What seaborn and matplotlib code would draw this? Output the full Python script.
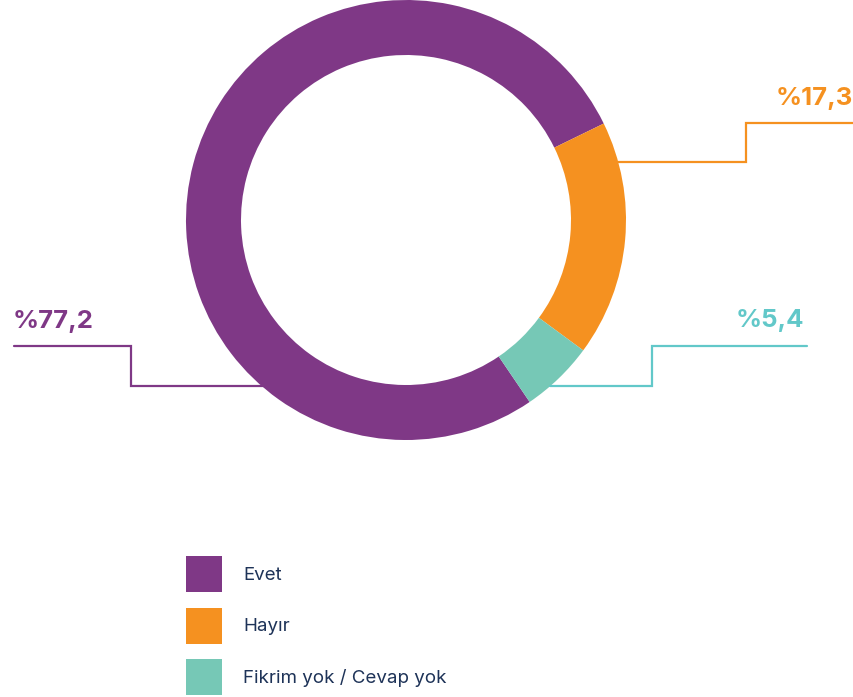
import matplotlib
matplotlib.use('Agg')
import matplotlib.pyplot as plt
import seaborn as sns

# data
categories = ['Evet', 'Hayır', 'Fikrim yok / Cevap yok']
shares = [77.2, 17.3, 5.4]
value_labels = ['%77,2', '%17,3', '%5,4']

sns.set_theme(style='white')
plt.rcParams['font.family'] = ['Inter', 'DejaVu Sans']

colors = sns.color_palette(['#7f3886', '#f59120', '#76c8b6'])
label_colors = ['#7f3886', '#f59120', '#62c8c9']
text_navy = '#1e3358'

W, H = 854, 697
fig = plt.figure(figsize=(W / 100, H / 100), dpi=100)
ax = fig.add_axes([0, 0, 1, 1])


# pixel y (from top) -> data y
def fy(y):
    return H - y


# donut: purple runs clockwise and ends where orange starts (~26 deg)
purple_deg = 360 * shares[0] / sum(shares)
wedges, _ = ax.pie(shares, colors=colors, startangle=26 + purple_deg,
                   counterclock=False, center=(406, fy(220)), radius=220,
                   frame=True, wedgeprops=dict(width=55, linewidth=0))
ax.set_xlim(0, W)
ax.set_ylim(0, H)
ax.set_aspect('equal')
ax.axis('off')

# leader lines (step shape)
lw = 1.6
ax.plot([14, 131, 131, 264], [fy(346), fy(346), fy(386), fy(386)],
        color=label_colors[0], lw=lw, solid_joinstyle='miter')
ax.plot([617, 746, 746, 856], [fy(162), fy(162), fy(123), fy(123)],
        color=label_colors[1], lw=lw, solid_joinstyle='miter')
ax.plot([550, 652, 652, 807], [fy(386), fy(386), fy(346), fy(346)],
        color=label_colors[2], lw=lw, solid_joinstyle='miter')

# value labels
ax.text(13, fy(328), value_labels[0], color=label_colors[0], fontsize=18.5,
        fontweight='bold', ha='left', va='baseline')
ax.text(853, fy(105), value_labels[1], color=label_colors[1], fontsize=18.5,
        fontweight='bold', ha='right', va='baseline')
ax.text(804, fy(327), value_labels[2], color=label_colors[2], fontsize=18.5,
        fontweight='bold', ha='right', va='baseline')

# legend
fs = 13.5
leg = fig.legend(wedges, categories, loc='upper left',
                 bbox_to_anchor=(186 / W, 1 - 556 / H), frameon=False,
                 fontsize=fs, handlelength=1.92, handleheight=2.58,
                 handletextpad=1.12, labelspacing=0.83, borderpad=0,
                 borderaxespad=0)
for t in leg.get_texts():
    t.set_color(text_navy)

fig.savefig('out.png', dpi=100)
